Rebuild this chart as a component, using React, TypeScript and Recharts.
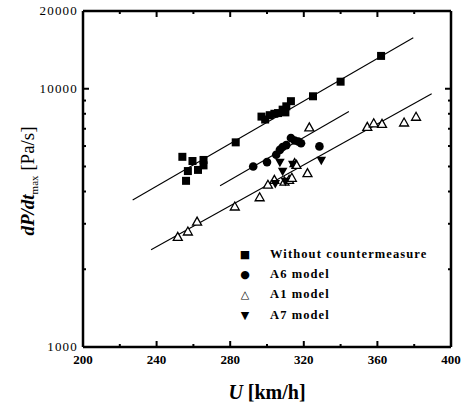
import React from "react";
import { ScatterChart, Scatter, XAxis, YAxis, Legend } from "recharts";

// [U km/h, dP/dt max Pa/s]
const withoutCM = [
  [254, 5450], [256, 4400], [257, 4800], [259.5, 5250], [262.5, 4850], [265.5, 5050],
  [265.5, 5300], [283, 6200], [297, 7800], [299, 7600], [301.5, 7900], [304, 8000],
  [306, 8050], [308.5, 8300], [310, 8100], [310.5, 8550], [313, 8950], [325, 9350],
  [340, 10650], [362, 13400],
];
const a6 = [
  [292.5, 5000], [300, 5200], [305, 5550], [307, 5800], [308.5, 5950], [310.5, 6050],
  [313, 6450], [315, 6300], [317, 6250], [318.5, 6150], [328.5, 5980],
];
const a1 = [
  [251.5, 2670], [257, 2800], [262, 3060], [282.5, 3500], [296, 3800], [300.5, 4250],
  [304, 4440], [309.5, 4370], [312, 4440], [313.5, 4520], [315, 5150], [316, 5070],
  [322, 4710], [323, 7090], [354.5, 7120], [358, 7350], [362.5, 7310], [374.5, 7400],
  [381, 7790],
];
const a7 = [
  [304.5, 4280], [307, 5170], [308.5, 4770], [310, 4360], [314, 5080], [329.5, 5260],
];

// fitted trend lines (end points)
const fitWithout = [[227, 3710], [379.5, 15750]];
const fitA6 = [[274.5, 4210], [344.5, 8170]];
const fitA1 = [[237, 2380], [389.5, 9560]];

const xTicks = [200, 220, 240, 260, 280, 300, 320, 340, 360, 380, 400];
const yTicks = [1000, 2000, 3000, 4000, 5000, 6000, 7000, 8000, 9000, 10000, 20000];
const yLabels = [1000, 10000, 20000];

const legendNames = ["Without countermeasure", "A6 model", "A1 model", "A7 model"];
const legendGlyphs = ["■", "●", "△", "▼"];

const toPts = (arr: number[][]) => arr.map(([x, y]) => ({ x, y }));

const FONT = "'Liberation Serif', 'DejaVu Serif', serif";
const INK = "#000";
const TS = 6; // recharts default tick size
const TM = 2; // recharts default tick margin

const Square = ({ cx, cy }: any) => <rect x={cx - 4} y={cy - 4} width={8} height={8} fill="#000" />;
const Dot = ({ cx, cy }: any) => <circle cx={cx} cy={cy} r={4.3} fill="#000" />;
const TriUp = ({ cx, cy }: any) => (
  <path d={`M${cx},${cy - 4.5} L${cx + 4.5},${cy + 3.5} L${cx - 4.5},${cy + 3.5} Z`} fill="#fff" stroke="#000" strokeWidth={1.3} />
);
const TriDown = ({ cx, cy }: any) => (
  <path d={`M${cx - 4.8},${cy - 4} L${cx + 4.8},${cy - 4} L${cx},${cy + 4.5} Z`} fill="#000" />
);
const NoDot = () => <g />;

// custom ticks: x/y given by recharts sit TS+TM away from the axis line; marks point inward
const XTickBottom = ({ x, y, payload }: any) => {
  const major = payload.value % 40 === 0;
  const ay = y - TS - TM;
  return (
    <g>
      <line x1={x} x2={x} y1={ay} y2={ay - (major ? 6 : 3)} stroke={INK} strokeWidth={2} />
      {major && (
        <text x={x} y={ay + 17} textAnchor="middle" fontFamily={FONT} fontWeight="bold" fontSize={13} fill="#000">
          {payload.value}
        </text>
      )}
    </g>
  );
};
const XTickTop = ({ x, y, payload }: any) => {
  const major = payload.value % 40 === 0;
  const ay = y + TS + TM;
  return <line x1={x} x2={x} y1={ay} y2={ay + (major ? 6 : 3)} stroke={INK} strokeWidth={2} />;
};
const YTickLeft = ({ x, y, payload }: any) => {
  const major = yLabels.includes(payload.value);
  const ax = x + TS + TM;
  return (
    <g>
      <line x1={ax} x2={ax + (major ? 6 : 3)} y1={y} y2={y} stroke={INK} strokeWidth={2} />
      {major && (
        <text x={ax - 5} y={y + 4} textAnchor="end" fontFamily={FONT} fontSize={13} letterSpacing={1.2} fill="#000">
          {payload.value}
        </text>
      )}
    </g>
  );
};
const YTickRight = ({ x, y, payload }: any) => {
  const major = yLabels.includes(payload.value);
  const ax = x - TS - TM;
  return <line x1={ax} x2={ax - (major ? 6 : 3)} y1={y} y2={y} stroke={INK} strokeWidth={2} />;
};

const YTitle = ({ viewBox }: any) => {
  const cx = viewBox.x + 34;
  const cy = viewBox.y + viewBox.height / 2 + 2;
  return (
    <text transform={`translate(${cx},${cy}) rotate(-90)`} textAnchor="middle" fontFamily={FONT} fontSize={19} fill="#000">
      <tspan fontStyle="italic" fontWeight="bold">dP/dt</tspan>
      <tspan fontSize={11} dy={4}>max</tspan>
      <tspan dy={-4}> [Pa/s]</tspan>
    </text>
  );
};
const XTitle = ({ viewBox }: any) => {
  const cx = viewBox.x + viewBox.width / 2;
  return (
    <text x={cx} y={viewBox.y + 52} textAnchor="middle" fontFamily={FONT} fontSize={20} fontWeight="bold" fill="#000">
      <tspan fontStyle="italic">U</tspan>
      <tspan> [km/h]</tspan>
    </text>
  );
};

const LegendBox = () => (
  <div style={{ fontFamily: FONT, fontWeight: "bold", fontSize: 12.5, letterSpacing: 1.1, color: "#000" }}>
    {legendNames.map((name, i) => (
      <div key={name} style={{ display: "flex", alignItems: "center", height: 20.3 }}>
        <span style={{ width: 12, textAlign: "center", fontFamily: "'DejaVu Sans', sans-serif", fontWeight: "normal", fontSize: 11, letterSpacing: 0 }}>
          {legendGlyphs[i]}
        </span>
        <span style={{ marginLeft: 19, whiteSpace: "nowrap" }}>{name}</span>
      </div>
    ))}
  </div>
);

const frame = { stroke: INK, strokeWidth: 2.5 };

export default function App() {
  return (
    <div style={{ position: "absolute", left: 0, top: 0 }}>
      <ScatterChart width={464} height={414} margin={{ top: 10, right: 12, bottom: 0, left: 0 }}>
        <XAxis
          dataKey="x"
          type="number"
          domain={[200, 400]}
          ticks={xTicks}
          interval={0}
          tickLine={false}
          tick={<XTickBottom />}
          axisLine={frame}
          height={67}
          label={<XTitle />}
        />
        <XAxis
          xAxisId="t"
          orientation="top"
          dataKey="x"
          type="number"
          domain={[200, 400]}
          ticks={xTicks}
          interval={0}
          tickLine={false}
          tick={<XTickTop />}
          axisLine={frame}
          height={1}
        />
        <YAxis
          dataKey="y"
          type="number"
          scale="log"
          domain={[1000, 20000]}
          ticks={yTicks}
          interval={0}
          tickLine={false}
          tick={<YTickLeft />}
          axisLine={frame}
          width={83}
          label={<YTitle />}
        />
        <YAxis
          yAxisId="r"
          orientation="right"
          dataKey="y"
          type="number"
          scale="log"
          domain={[1000, 20000]}
          ticks={yTicks}
          interval={0}
          tickLine={false}
          tick={<YTickRight />}
          axisLine={frame}
          width={1}
        />
        <Legend layout="vertical" align="center" verticalAlign="middle" content={<LegendBox />}
          wrapperStyle={{ left: 239, top: 244, width: 215 }} />
        <Scatter data={toPts(fitWithout)} line={{ stroke: "#000", strokeWidth: 1.1 }} shape={<NoDot />} isAnimationActive={false} legendType="none" />
        <Scatter data={toPts(fitA6)} line={{ stroke: "#000", strokeWidth: 1.1 }} shape={<NoDot />} isAnimationActive={false} legendType="none" />
        <Scatter data={toPts(fitA1)} line={{ stroke: "#000", strokeWidth: 1.1 }} shape={<NoDot />} isAnimationActive={false} legendType="none" />
        <Scatter xAxisId="t" yAxisId="r" data={toPts(withoutCM)} shape={<Square />} isAnimationActive={false} name={legendNames[0]} />
        <Scatter data={toPts(a6)} shape={<Dot />} isAnimationActive={false} name={legendNames[1]} />
        <Scatter data={toPts(a1)} shape={<TriUp />} isAnimationActive={false} name={legendNames[2]} />
        <Scatter data={toPts(a7)} shape={<TriDown />} isAnimationActive={false} name={legendNames[3]} />
      </ScatterChart>
    </div>
  );
}
